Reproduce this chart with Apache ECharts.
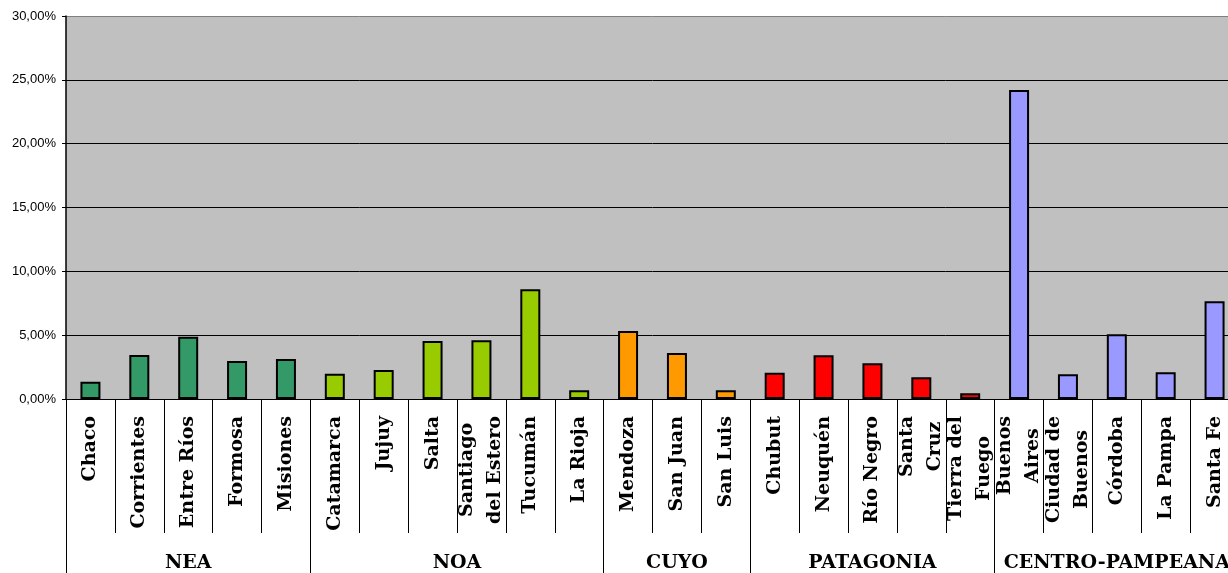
<!DOCTYPE html>
<html>
<head>
<meta charset="utf-8">
<script src="https://cdn.jsdelivr.net/npm/echarts@6/dist/echarts.min.js"></script>
<style>
  html, body { margin: 0; padding: 0; overflow: hidden; background: #ffffff; }
  #chart { width: 1245px; height: 573px; }
</style>
</head>
<body>
<div id="chart"></div>
<script>
// Provincias (en el orden del eje) y su participación en %
const provincias = [
  'Chaco', 'Corrientes', 'Entre Ríos', 'Formosa', 'Misiones',
  'Catamarca', 'Jujuy', 'Salta', 'Santiago\ndel Estero', 'Tucumán', 'La Rioja',
  'Mendoza', 'San Juan', 'San Luis',
  'Chubut', 'Neuquén', 'Río Negro', 'Santa\nCruz', 'Tierra del\nFuego',
  'Buenos\nAires', 'Ciudad de\nBuenos', 'Córdoba', 'La Pampa', 'Santa Fe'
];
const participacion = [
  1.35, 3.45, 4.88, 2.98, 3.13,
  1.98, 2.27, 4.54, 4.60, 8.59, 0.68,
  5.33, 3.60, 0.68,
  2.06, 3.42, 2.80, 1.70, 0.45,
  24.20, 1.94, 5.07, 2.09, 7.66
];
// Regiones y cantidad de provincias de cada una
const regiones = ['NEA', 'NOA', 'CUYO', 'PATAGONIA', 'CENTRO-PAMPEANA'];
const provinciasPorRegion = [5, 6, 3, 5, 5];
// Marcas del eje vertical (%)
const marcasEje = [0, 5, 10, 15, 20, 25, 30];

const coloresRegion = ['#339966', '#99CC00', '#FF9900', '#FF0000', '#9999FF'];

// Región de cada provincia, límites y centros de cada región sobre el eje
const regionDe = [];
const limites = [0];
const centros = [];
provinciasPorRegion.forEach(function (n, r) {
  for (let k = 0; k < n; k++) regionDe.push(r);
  const ini = limites[limites.length - 1];
  limites.push(ini + n);
  centros.push(ini + n / 2);
});

const fuenteCat = "'DejaVu Serif'";
const fuenteReg = "'DejaVu Serif'";

const chart = echarts.init(document.getElementById('chart'), null, { renderer: 'canvas' });

chart.setOption({
  animation: false,
  backgroundColor: '#ffffff',
  grid: {
    left: 66, top: 16, width: 1173, height: 383,
    show: true,
    backgroundColor: '#C0C0C0',
    borderWidth: 0
  },
  xAxis: [
    {
      type: 'category',
      data: provincias,
      position: 'bottom',
      axisLine: { show: true, lineStyle: { color: '#000', width: 1 } },
      axisTick: { show: true, interval: 0, length: 134, lineStyle: { color: '#000', width: 1 } },
      splitLine: { show: false },
      axisLabel: {
        interval: 0,
        rotate: 90,
        margin: 17,
        color: '#000',
        fontFamily: fuenteCat,
        fontWeight: 'bold',
        fontSize: 19,
        lineHeight: 28,
        formatter: function (v) {
          return v.split('\n').map(function (l) { return '{c|' + l + '}'; }).join('\n');
        },
        rich: {
          c: {
            align: 'center',
            color: '#000',
            fontFamily: fuenteCat,
            fontWeight: 'bold',
            fontSize: 19,
            lineHeight: 28
          }
        }
      }
    },
    {
      type: 'value',
      min: 0,
      max: provincias.length,
      position: 'bottom',
      axisLine: { show: false },
      splitLine: { show: false },
      axisTick: {
        show: true,
        customValues: limites,
        length: 174,
        lineStyle: { color: '#000', width: 1 }
      },
      axisLabel: {
        customValues: centros,
        margin: 154,
        color: '#000',
        fontFamily: fuenteReg,
        fontWeight: 'bold',
        fontSize: 19,
        lineHeight: 20,
        formatter: function (v) {
          for (let i = 0; i < centros.length; i++) {
            if (Math.abs(centros[i] - v) < 1e-6) return regiones[i];
          }
          return '';
        }
      }
    }
  ],
  yAxis: {
    type: 'value',
    min: marcasEje[0],
    max: marcasEje[marcasEje.length - 1],
    interval: marcasEje[1] - marcasEje[0],
    axisLine: { show: true, lineStyle: { color: '#000', width: 1.5 } },
    axisTick: { show: true, length: 4, lineStyle: { color: '#000', width: 1 } },
    axisLabel: {
      margin: 10,
      color: '#000',
      fontFamily: 'Liberation Sans',
      fontSize: 13,
      formatter: function (v) { return v.toFixed(2).replace('.', ',') + '%'; }
    },
    splitLine: {
      show: true,
      lineStyle: {
        color: ['#000', '#000', '#000', '#000', '#000', '#000', '#808080'],
        width: 1
      }
    }
  },
  series: [{
    type: 'bar',
    xAxisIndex: 0,
    yAxisIndex: 0,
    barWidth: 20,
    data: participacion.map(function (v, i) {
      return { value: v, itemStyle: { color: coloresRegion[regionDe[i]] } };
    }),
    itemStyle: { borderColor: '#000', borderWidth: 2 }
  }]
});
</script>
</body>
</html>
